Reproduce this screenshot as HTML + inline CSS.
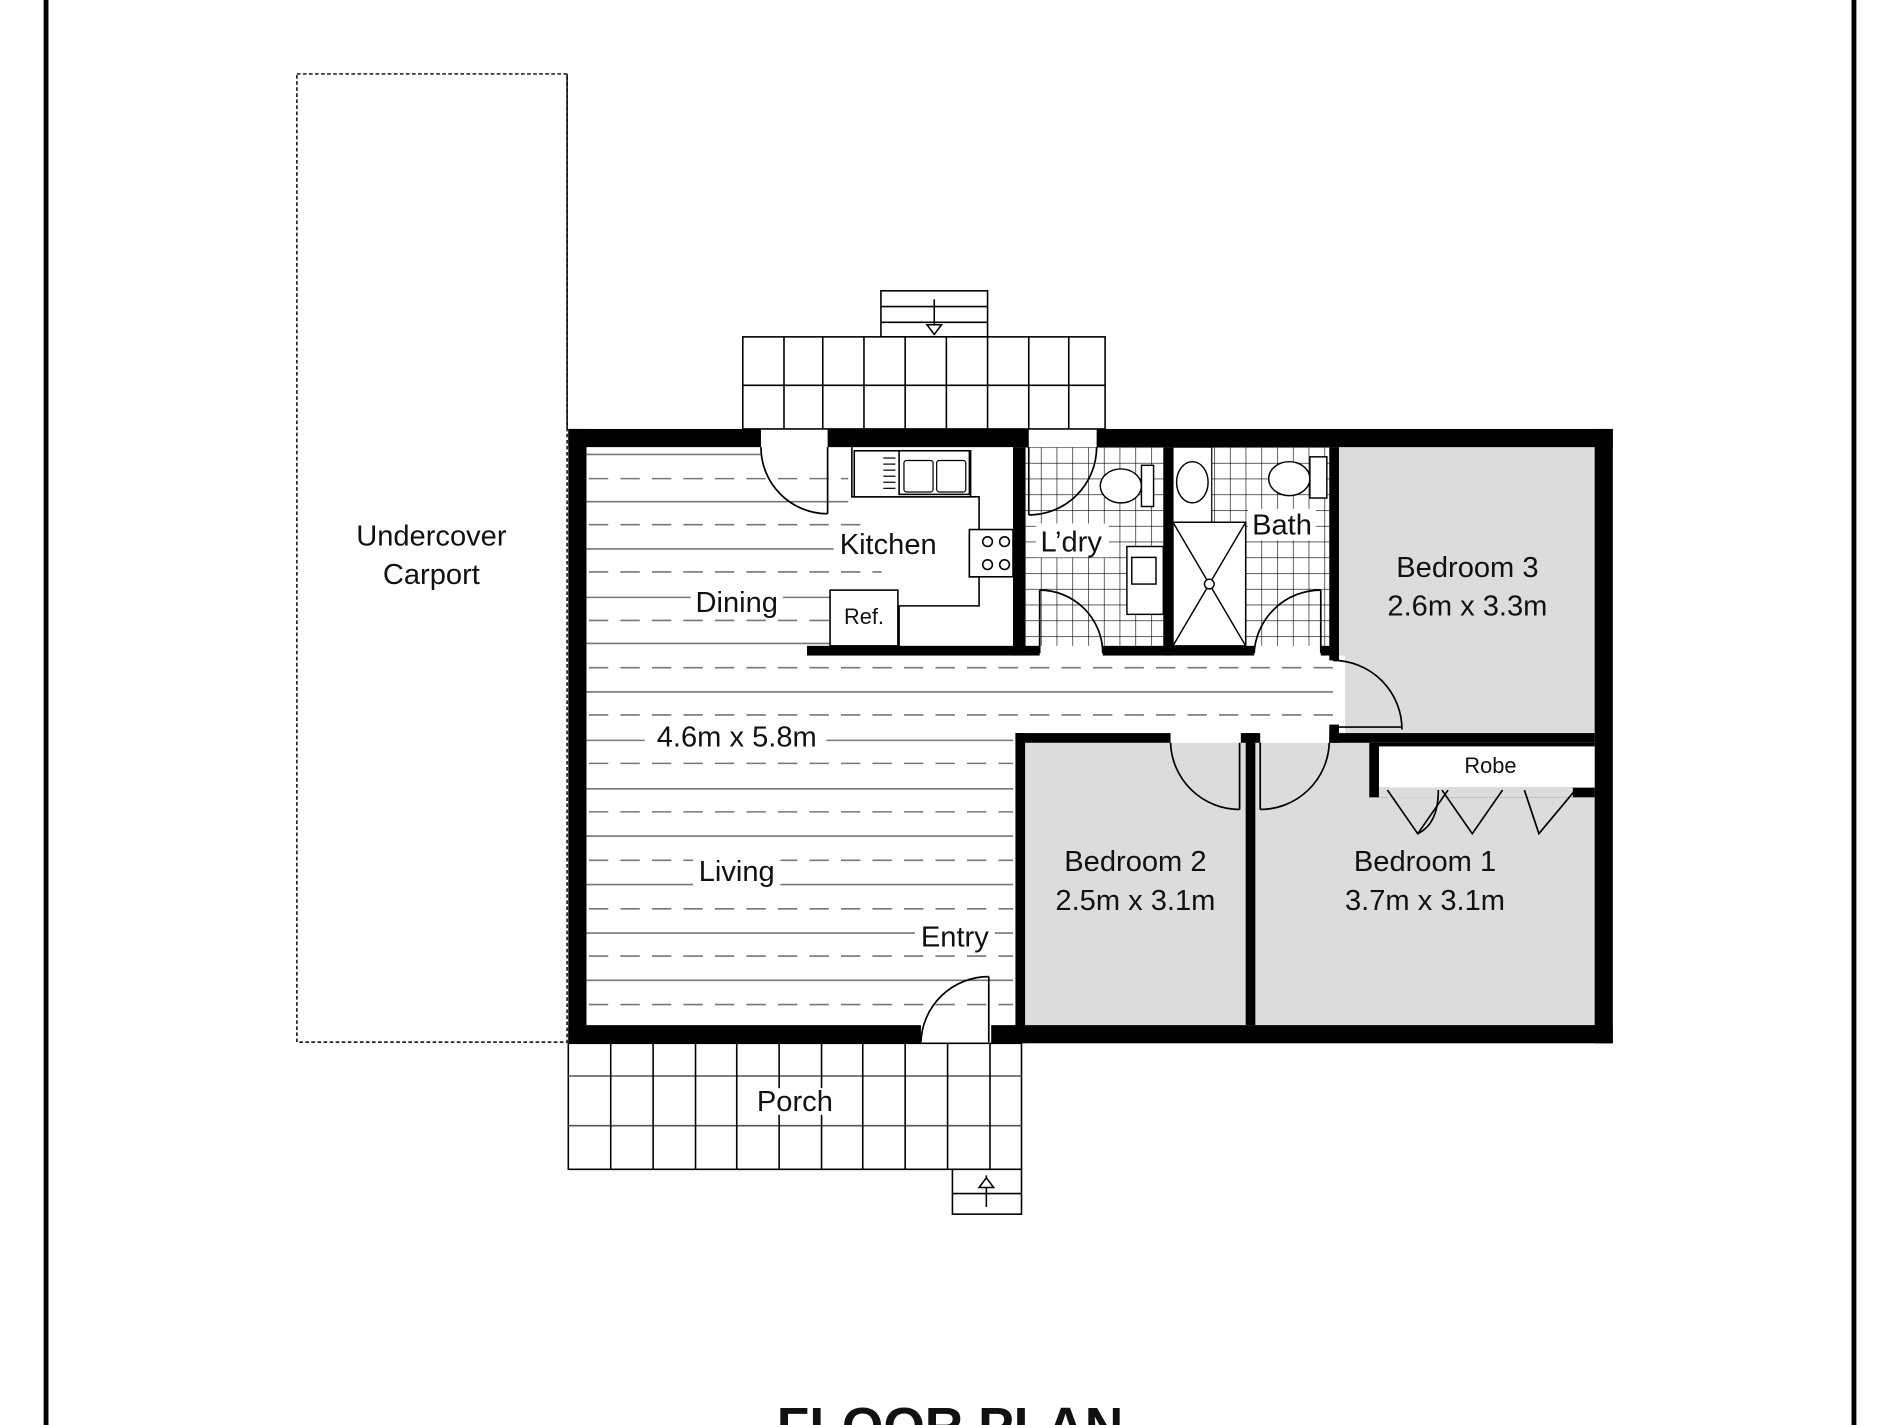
<!DOCTYPE html>
<html><head><meta charset="utf-8"><style>
html,body{margin:0;padding:0;background:#fff;}
svg{display:block;}
text{font-family:"Liberation Sans",Arial,sans-serif;fill:#111;}
</style></head><body>
<svg width="1900" height="1425" viewBox="0 0 1568 1176" xmlns="http://www.w3.org/2000/svg">
<rect x="0" y="0" width="1568" height="1176" fill="#fff"/>
<!-- page borders -->
<rect x="36" y="0" width="4" height="1176" fill="#000"/>
<rect x="1528" y="0" width="4" height="1176" fill="#000"/>

<!-- carport -->
<rect x="245" y="61" width="223" height="799" fill="none" stroke="#000" stroke-width="1.2" stroke-dasharray="3,2"/>
<line x1="468" y1="61" x2="468" y2="354" stroke="#000" stroke-width="1.2"/>
<text x="356" y="450" font-size="24" text-anchor="middle">Undercover</text>
<text x="356" y="482" font-size="24" text-anchor="middle">Carport</text>

<!-- back deck -->
<g stroke="#000" stroke-width="1.3" fill="#fff">
<rect x="727" y="240" width="88" height="38"/>
<line x1="727" y1="253" x2="815" y2="253"/>
<line x1="727" y1="266" x2="815" y2="266"/>
<line x1="771" y1="247" x2="771" y2="270"/>
<polygon points="765,268 777,268 771,276" fill="#fff"/>
<rect x="613" y="278" width="299" height="76"/>
<line x1="613" y1="318" x2="912" y2="318"/>
<line x1="647" y1="278" x2="647" y2="354"/><line x1="679" y1="278" x2="679" y2="354"/>
<line x1="713" y1="278" x2="713" y2="354"/><line x1="747" y1="278" x2="747" y2="354"/>
<line x1="781" y1="278" x2="781" y2="354"/><line x1="815" y1="278" x2="815" y2="354"/>
<line x1="849" y1="278" x2="849" y2="354"/><line x1="882" y1="278" x2="882" y2="354"/>
</g>

<!-- porch -->
<g stroke="#000" stroke-width="1.3" fill="#fff">
<rect x="469" y="861" width="374" height="104"/>
<line x1="469" y1="888" x2="843" y2="888" stroke="#555"/>
<line x1="469" y1="929" x2="843" y2="929" stroke="#555"/>
<line x1="504" y1="861" x2="504" y2="965"/><line x1="539" y1="861" x2="539" y2="965"/>
<line x1="574" y1="861" x2="574" y2="965"/><line x1="608" y1="861" x2="608" y2="965"/>
<line x1="643" y1="861" x2="643" y2="965"/><line x1="678" y1="861" x2="678" y2="965"/>
<line x1="712" y1="861" x2="712" y2="965"/><line x1="747" y1="861" x2="747" y2="965"/>
<line x1="782" y1="861" x2="782" y2="965"/><line x1="817" y1="861" x2="817" y2="965"/>
<rect x="786" y="965" width="57" height="37"/>
<line x1="786" y1="985" x2="843" y2="985"/>
<line x1="814" y1="970" x2="814" y2="996"/>
<polygon points="808,980 820,980 814,972" fill="#fff"/>
</g>
<rect x="620" y="898" width="70" height="22" fill="#fff"/>
<text x="656" y="917" font-size="24" text-anchor="middle">Porch</text>

<!-- grey bedrooms -->
<rect x="1105" y="369" width="211" height="237" fill="#dcdcdc"/>
<rect x="846" y="613" width="182" height="233" fill="#dcdcdc"/>
<rect x="1036" y="613" width="280" height="233" fill="#dcdcdc"/>
<rect x="1100" y="541" width="10" height="65" fill="#fff"/>

<!-- floor lines living/dining/hall -->
<g stroke="#777" stroke-width="1.3">
<line x1="484" y1="414" x2="700" y2="414"/>
<line x1="484" y1="453" x2="800" y2="453"/>
<line x1="484" y1="493" x2="686" y2="493"/>
<line x1="484" y1="531" x2="686" y2="531"/>
<line x1="484" y1="571" x2="1100" y2="571"/>
<line x1="484" y1="611" x2="836" y2="611"/>
<line x1="484" y1="651" x2="836" y2="651"/>
<line x1="484" y1="690" x2="836" y2="690"/>
<line x1="484" y1="730" x2="836" y2="730"/>
<line x1="484" y1="770" x2="836" y2="770"/>
<line x1="484" y1="809" x2="836" y2="809"/>
<line x1="484" y1="375" x2="628" y2="375"/>
</g>
<g stroke="#777" stroke-width="1.3" stroke-dasharray="16,10">
<line x1="486" y1="395" x2="700" y2="395"/>
<line x1="486" y1="433" x2="800" y2="433"/>
<line x1="486" y1="472" x2="800" y2="472"/>
<line x1="486" y1="512" x2="686" y2="512"/>
<line x1="486" y1="551" x2="1100" y2="551"/>
<line x1="486" y1="590" x2="1100" y2="590"/>
<line x1="486" y1="630" x2="836" y2="630"/>
<line x1="486" y1="670" x2="836" y2="670"/>
<line x1="486" y1="710" x2="836" y2="710"/>
<line x1="486" y1="750" x2="836" y2="750"/>
<line x1="486" y1="789" x2="836" y2="789"/>
<line x1="486" y1="829" x2="836" y2="829"/>
</g>

<!-- tiles laundry & bath -->
<defs>
<pattern id="tile" x="846" y="369" width="13" height="13" patternUnits="userSpaceOnUse">
<path d="M0 0 H13 M0 0 V13" stroke="#000" stroke-width="1" fill="none"/>
</pattern>
</defs>
<rect x="846" y="369" width="114" height="164" fill="url(#tile)"/>
<rect x="968" y="369" width="129" height="164" fill="url(#tile)"/>
<rect x="968" y="369" width="32" height="62" fill="#fff" stroke="#000" stroke-width="1"/>

<!-- kitchen benches -->
<g stroke="#000" stroke-width="1.3" fill="#fff">
<path d="M703 369 V410 H808 V440 H800 V476 H808 V500 H742 V533" />
<rect x="705" y="372" width="96" height="38"/>
<rect x="742" y="372" width="58" height="36" fill="#fff"/>
<rect x="800" y="437" width="36" height="39"/>
<circle cx="815" cy="447" r="4"/><circle cx="829" cy="447" r="4"/>
<circle cx="815" cy="466" r="4"/><circle cx="829" cy="466" r="4"/>
<rect x="685" y="487" width="56" height="46"/>
</g>
<g stroke="#000" stroke-width="1" fill="none">
<line x1="729" y1="378" x2="739" y2="378"/><line x1="729" y1="383" x2="739" y2="383"/>
<line x1="729" y1="388" x2="739" y2="388"/><line x1="729" y1="393" x2="739" y2="393"/>
<line x1="729" y1="398" x2="739" y2="398"/><line x1="729" y1="403" x2="739" y2="403"/>
<rect x="746" y="380" width="24" height="26" rx="2"/>
<rect x="773" y="380" width="24" height="26" rx="2"/>
</g>
<text x="713" y="515" font-size="18" text-anchor="middle">Ref.</text>

<!-- fixtures -->
<g stroke="#000" stroke-width="1.2" fill="#fff">
<ellipse cx="925" cy="401" rx="17" ry="14"/>
<rect x="942" y="384" width="10" height="34"/>
<ellipse cx="1064" cy="395" rx="17" ry="14"/>
<rect x="1081" y="377" width="14" height="34"/>
<ellipse cx="984" cy="398" rx="13" ry="17"/>
<rect x="930" y="451" width="30" height="56"/>
<rect x="934" y="460" width="20" height="22"/>
<rect x="968" y="431" width="60" height="102"/>
<line x1="968" y1="431" x2="1028" y2="533"/>
<line x1="1028" y1="431" x2="968" y2="533"/>
<circle cx="998" cy="482" r="4"/>
</g>

<!-- walls -->
<g fill="#000">
<rect x="469" y="354" width="159" height="15"/>
<rect x="683" y="354" width="166" height="15"/>
<rect x="905" y="354" width="426" height="15"/>
<rect x="469" y="354" width="15" height="507"/>
<rect x="1316" y="354" width="15" height="507"/>
<rect x="469" y="846" width="291" height="15"/>
<rect x="818" y="846" width="513" height="15"/>
<rect x="836" y="369" width="10" height="172"/>
<rect x="666" y="533" width="192" height="8"/>
<rect x="910" y="533" width="125" height="8"/>
<rect x="1090" y="533" width="15" height="8"/>
<rect x="960" y="369" width="8" height="172"/>
<rect x="1097" y="369" width="8" height="176"/>
<rect x="1097" y="598" width="8" height="15"/>
<rect x="838" y="605" width="128" height="8"/>
<rect x="1024" y="605" width="16" height="8"/>
<rect x="1097" y="605" width="219" height="8"/>
<rect x="838" y="605" width="8" height="256"/>
<rect x="1028" y="605" width="8" height="241"/>
<rect x="1130" y="613" width="186" height="45"/>
</g>
<rect x="1138" y="616" width="178" height="34" fill="#fff"/>
<text x="1230" y="638" font-size="18" text-anchor="middle">Robe</text>
<rect x="1138" y="650" width="160" height="8" fill="#dcdcdc"/>
<rect x="1145" y="650" width="50" height="8" fill="#dcdcdc"/>

<!-- doors -->
<g stroke="#000" stroke-width="1.4" fill="none">
<path d="M628 369 A55 55 0 0 0 683 424"/>
<line x1="683" y1="369" x2="683" y2="424"/>
<path d="M905 369 A56 56 0 0 1 849 425"/>
<line x1="849" y1="369" x2="849" y2="425"/>
<path d="M858 487 A52 52 0 0 1 910 539"/>
<line x1="858" y1="487" x2="858" y2="539"/>
<path d="M1090 487 A55 55 0 0 0 1035 539"/>
<line x1="1090" y1="487" x2="1090" y2="539"/>
<path d="M1100 545 A57 57 0 0 1 1157 602"/>
<line x1="1100" y1="600" x2="1157" y2="600"/>
<path d="M966 613 A57 57 0 0 0 1023 668"/>
<line x1="1023" y1="613" x2="1023" y2="668"/>
<path d="M1097 613 A57 57 0 0 1 1040 668"/>
<line x1="1040" y1="613" x2="1040" y2="668"/>
<path d="M760 860 A56 56 0 0 1 816 806"/>
<line x1="816" y1="806" x2="816" y2="860"/>
<path d="M1145 652 L1170 688 L1195 652"/>
<path d="M1187 652 Q1187 680 1170 688"/>
<path d="M1240 652 L1215 688 L1190 652"/>
<path d="M1258 652 L1270 688 L1300 652"/>
</g>

<!-- labels -->
<g font-size="24">
<rect x="688" y="436" width="90" height="26" fill="#fff"/>
<text x="733" y="457" text-anchor="middle">Kitchen</text>
<rect x="570" y="484" width="76" height="26" fill="#fff"/>
<text x="608" y="505" text-anchor="middle">Dining</text>
<rect x="855" y="432" width="60" height="28" fill="#fff"/>
<text x="884" y="455" text-anchor="middle">L’dry</text>
<rect x="1030" y="420" width="56" height="26" fill="#fff"/>
<text x="1058" y="441" text-anchor="middle">Bath</text>
<text x="1211" y="476" text-anchor="middle">Bedroom 3</text>
<text x="1211" y="508" text-anchor="middle">2.6m x 3.3m</text>
<rect x="532" y="595" width="150" height="26" fill="#fff"/>
<text x="608" y="616" text-anchor="middle">4.6m x 5.8m</text>
<rect x="572" y="706" width="72" height="26" fill="#fff"/>
<text x="608" y="727" text-anchor="middle">Living</text>
<rect x="755" y="761" width="66" height="26" fill="#fff"/>
<text x="788" y="781" text-anchor="middle">Entry</text>
<text x="937" y="719" text-anchor="middle">Bedroom 2</text>
<text x="937" y="751" text-anchor="middle">2.5m x 3.1m</text>
<text x="1176" y="719" text-anchor="middle">Bedroom 1</text>
<text x="1176" y="751" text-anchor="middle">3.7m x 3.1m</text>
</g>
<text x="784" y="1192" font-size="44" font-weight="bold" text-anchor="middle">FLOOR PLAN</text>
</svg>
</body></html>
